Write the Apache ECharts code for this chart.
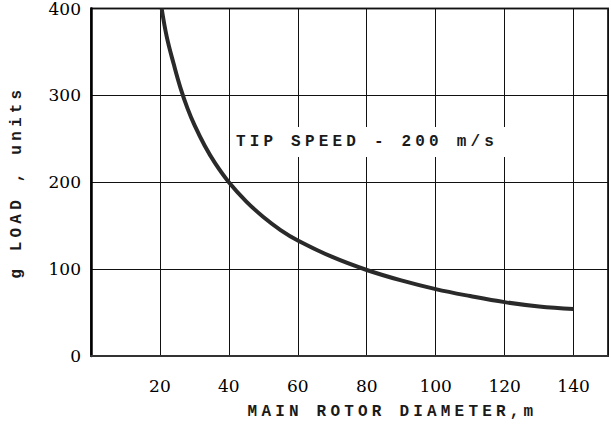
<!DOCTYPE html>
<html>
<head>
<meta charset="utf-8">
<script src="https://cdn.jsdelivr.net/npm/echarts@6/dist/echarts.min.js"></script>
<style>
  html, body { margin: 0; padding: 0; background: #fff; }
  #main { width: 611px; height: 426px; }
  #main text[style*="16px"] { letter-spacing: 4.2px; }
</style>
</head>
<body>
<div id="main"></div>
<script>
// Data
const diameter = [20.5, 22, 24, 26, 28, 30, 33, 36, 40, 45, 50, 55, 60, 70, 80, 90, 100, 110, 120, 130, 140];
const gLoad    = [400, 367, 336, 308, 285, 266, 242, 222, 200, 178, 160, 145, 133, 114, 99, 87, 77, 69, 62, 57, 54];
const xTitle = 'MAIN ROTOR DIAMETER,m';
const yTitle = 'g LOAD , units';
const annotation = 'TIP SPEED - 200 m/s';

const titleFont = { fontFamily: 'Liberation Mono', fontSize: 16, fontWeight: 'bold', color: '#1a1a1a' };
const tickFont = { fontFamily: 'DejaVu Serif', fontSize: 17, color: '#000' };

const chart = echarts.init(document.getElementById('main'), null, { renderer: 'svg' });
chart.setOption({
  animation: false,
  backgroundColor: '#fff',
  grid: { left: 91, right: 1, top: 8, bottom: 70, show: true, borderColor: '#333', borderWidth: 2 },
  xAxis: {
    type: 'value', min: 0, max: 150, interval: 20,
    name: xTitle, nameLocation: 'middle', nameGap: 48,
    nameTextStyle: Object.assign({ padding: [0, 0, 0, 86] }, titleFont),
    axisLine: { show: true, onZero: false, lineStyle: { color: '#333', width: 2 } },
    axisTick: { show: false },
    axisLabel: Object.assign({ margin: 21, formatter: v => (v === 0 || v === 150) ? '' : String(v) }, tickFont),
    splitLine: { show: true, lineStyle: { color: '#111', width: 1 } }
  },
  yAxis: {
    type: 'value', min: 0, max: 400, interval: 100,
    name: yTitle, nameLocation: 'middle', nameGap: 66, nameRotate: 90,
    nameTextStyle: titleFont,
    axisLine: { show: true, onZero: false, lineStyle: { color: '#000', width: 2.5 } },
    axisTick: { show: false },
    axisLabel: Object.assign({ margin: 10 }, tickFont),
    splitLine: { show: true, lineStyle: { color: '#111', width: 1 } }
  },
  series: [{
    type: 'line',
    data: diameter.map((d, i) => [d, gLoad[i]]),
    smooth: 0.4,
    symbol: 'none',
    lineStyle: { color: '#2a2a2a', width: 4 },
    z: 5
  }],
  graphic: [
    { type: 'rect', z: 100, shape: { x: 231, y: 127, width: 274, height: 30 }, style: { fill: '#fff' } },
    { type: 'text', z: 101, x: 367, y: 142,
      style: { text: annotation, font: 'bold 16px "Liberation Mono"', fill: '#1a1a1a', textAlign: 'center', textVerticalAlign: 'middle' } }
  ]
});
</script>
</body>
</html>
